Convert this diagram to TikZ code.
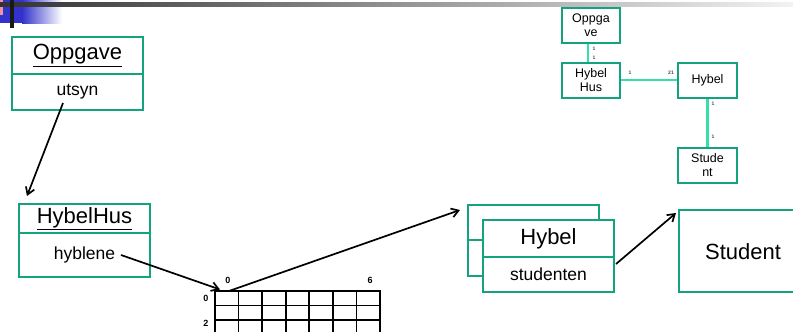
\documentclass[tikz,border=0pt]{standalone}
\usepackage{fontspec}
\setmainfont{Liberation Sans}
\usetikzlibrary{arrows.meta}
\definecolor{boxgreen}{RGB}{20,163,124}
\definecolor{linkgreen}{RGB}{50,225,170}
\definecolor{topblue}{RGB}{51,51,204}
\definecolor{toppink}{RGB}{240,150,160}
\begin{document}
\begin{tikzpicture}[x=1pt,y=-1pt,
  umlbox/.style={draw=boxgreen, line width=2.8pt, fill=white, inner sep=0pt},
  smallbox/.style={draw=boxgreen, line width=2.2pt, fill=white, inner sep=0pt,
     minimum height=35pt, align=center, font=\fontsize{12.5}{14}\selectfont},
  bigfont/.style={font=\fontsize{22}{26}\selectfont},
  midfont/.style={font=\fontsize{17.5}{20}\selectfont},
  ptr/.style={draw=black, line width=1.7pt, -{Straight Barb[length=7pt,width=9pt]}},
  link/.style={draw=linkgreen, line width=2.2pt},
  mult/.style={font=\fontsize{5}{5}\selectfont\bfseries, text=black!70, inner sep=0pt},
  gridlbl/.style={font=\fontsize{9}{9}\selectfont\bfseries, inner sep=0pt},
  gridline/.style={draw=black, line width=1.8pt}]
\useasboundingbox (0,0) rectangle (793,332);

% top decoration
\fill[topblue] (0,0) rectangle (22,23);
\shade[left color=topblue, right color=white] (22,0) rectangle (62,23);
\fill[toppink] (0,0) rectangle (3,15);
\shade[left color=black!80, right color=black!5] (0,2) rectangle (793,6);
\fill[black!90] (10,0) rectangle (14,28);

% Oppgave
\node[umlbox, minimum width=131pt, minimum height=37pt, bigfont] (opptop) at (77.5,55.5) {\underline{Oppgave}};
\node[umlbox, minimum width=131pt, minimum height=36pt, midfont] (oppbot) at (77.5,92) {utsyn};

% HybelHus
\node[umlbox, minimum width=131pt, minimum height=29pt, bigfont] (hhtop) at (84.5,218.5) {\underline{HybelHus}};
\node[umlbox, minimum width=131pt, minimum height=44pt, midfont] (hhbot) at (84.5,255) {hyblene};

% Hybel stacked
\node[umlbox, minimum width=131pt, minimum height=35pt] (hyback1) at (533.5,222.5) {};
\node[umlbox, minimum width=131pt, minimum height=36pt] (hyback2) at (533.5,258) {};
\node[umlbox, minimum width=131pt, minimum height=37pt, bigfont] (hytop) at (548.5,238.5) {Hybel};
\node[umlbox, minimum width=131pt, minimum height=35pt, midfont] (hybot) at (548.5,274.5) {studenten};

% Student
\node[umlbox, minimum width=128pt, minimum height=82pt] (stu) at (743,251) {};
\node[bigfont, inner sep=0pt] (stutxt) at (743,252) {Student};

% grid
\foreach \i in {0,...,7} \draw[gridline] ({215+\i*23.57},291) -- ({215+\i*23.57},333);
\foreach \j in {0,1,2} \draw[gridline] (214.1,{291+\j*14.5}) -- (380.9,{291+\j*14.5});
\node[gridlbl] (c0) at (228,280) {0};
\node[gridlbl] (c6) at (370,280) {6};
\node[gridlbl] (r0) at (206,298) {0};
\node[gridlbl] (r2) at (206,323) {2};

% pointer coordinates
\coordinate (utsynout) at (63,103);
\coordinate (hhin) at (27,196);
\coordinate (hybleneout) at (121,255);
\coordinate (gridin) at (220,289.5);
\coordinate (gridout) at (229,291);
\coordinate (hybelin) at (460,210);
\coordinate (studout) at (616,264);
\coordinate (stuin) at (676,213);

\draw[ptr] (utsynout) -- (hhin);
\draw[ptr] (hybleneout) -- (gridin);
\draw[ptr] (gridout) -- (hybelin);
\draw[ptr] (studout) -- (stuin);

% small diagram
\node[smallbox, minimum width=58pt] (soppg) at (591,25.5) {Oppga\\ve};
\node[smallbox, minimum width=58pt] (shh) at (591,80.5) {Hybel\\Hus};
\node[smallbox, minimum width=59pt] (shy) at (707.5,80.5) {Hybel};
\node[smallbox, minimum width=59pt] (sstu) at (707.5,165.5) {Stude\\nt};
\draw[link] ([xshift=-3pt]soppg.south) -- ([xshift=-3pt]shh.north);
\draw[link] ([yshift=0.5pt]shh.east) -- ([yshift=0.5pt]shy.west);
\draw[link] (shy.south) -- (sstu.north);
\node[mult] (m1) at (594,49) {1};
\node[mult] (m2) at (594,58) {1};
\node[mult] (m3) at (630,73) {1};
\node[mult] (m4) at (671,73) {21};
\node[mult] (m5) at (713,104) {1};
\node[mult] (m6) at (713,137) {1};
\end{tikzpicture}
\end{document}
